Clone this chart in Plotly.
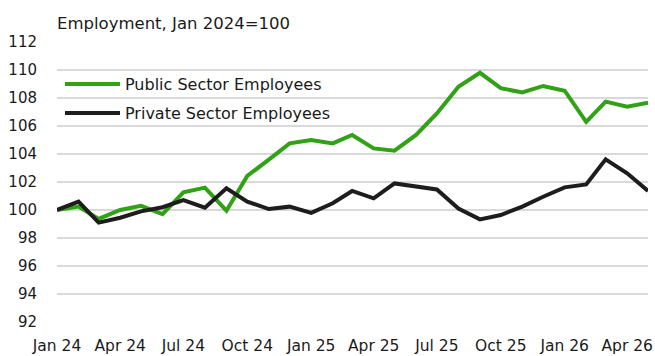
import plotly.graph_objects as go

# Monthly index values, Jan 2024 = 100
months = [
    "2024-01-01", "2024-02-01", "2024-03-01", "2024-04-01", "2024-05-01", "2024-06-01",
    "2024-07-01", "2024-08-01", "2024-09-01", "2024-10-01", "2024-11-01", "2024-12-01",
    "2025-01-01", "2025-02-01", "2025-03-01", "2025-04-01", "2025-05-01", "2025-06-01",
    "2025-07-01", "2025-08-01", "2025-09-01", "2025-10-01", "2025-11-01", "2025-12-01",
    "2026-01-01", "2026-02-01", "2026-03-01", "2026-04-01", "2026-05-01",
]

public_sector = [
    100.0, 100.24, 99.36, 100.0, 100.3, 99.7, 101.26, 101.6, 99.95, 102.43, 103.6, 104.76,
    105.0, 104.76, 105.36, 104.4, 104.24, 105.36, 106.9, 108.8, 109.8, 108.7, 108.4, 108.86,
    108.52, 106.29, 107.74, 107.38, 107.67,
]

private_sector = [
    100.0, 100.6, 99.1, 99.45, 99.9, 100.2, 100.7, 100.17, 101.55, 100.6, 100.07, 100.24,
    99.8, 100.48, 101.36, 100.83, 101.9, 101.7, 101.47, 100.1, 99.33, 99.64, 100.24, 100.95,
    101.62, 101.83, 103.62, 102.62, 101.36,
]

series_names = ["Public Sector Employees", "Private Sector Employees"]
series_colors = ["#31a116", "#1d1d1d"]
y_ticks = [92, 94, 96, 98, 100, 102, 104, 106, 108, 110, 112]

FONT = "DejaVu Sans"
TEXT = "#1a1a1a"

fig = go.Figure()
for name, values, color in zip(series_names, [public_sector, private_sector], series_colors):
    fig.add_trace(go.Scatter(
        x=months, y=values, name=name, mode="lines",
        line=dict(color=color, width=4),
        showlegend=False, hoverinfo="skip",
    ))

# Legend drawn as long sample lines with labels beside them
legend_rows_y = [0.85, 0.746]
for name, color, yy in zip(series_names, series_colors, legend_rows_y):
    fig.add_shape(type="line", xref="paper", yref="paper",
                  x0=0.0135, x1=0.1066, y0=yy, y1=yy,
                  line=dict(color=color, width=4))
    fig.add_annotation(xref="paper", yref="paper", x=0.1117, y=yy,
                       xanchor="left", yanchor="middle", showarrow=False,
                       text=name, font=dict(family=FONT, size=16, color=TEXT))

fig.update_layout(
    width=655, height=356,
    margin=dict(l=57, r=7, t=42, b=34),
    paper_bgcolor="white", plot_bgcolor="white",
    font=dict(family=FONT, size=16, color=TEXT),
    title=dict(text="Employment, Jan 2024=100", x=0, xref="paper", xanchor="left",
               y=1 - 23 / 356, yref="container", yanchor="middle",
               font=dict(family=FONT, size=16.5, color=TEXT)),
)

fig.update_xaxes(
    type="date", range=[months[0], months[-1]],
    tick0=months[0], dtick="M3", tickformat="%b %y",
    showgrid=False, zeroline=False, showline=False,
    ticks="", ticklabelstandoff=12, automargin=False,
    tickfont=dict(size=15.5),
)
fig.update_yaxes(
    range=[y_ticks[0], y_ticks[-1]], tickvals=y_ticks,
    showgrid=True, gridcolor="#d9d9d9", gridwidth=1.5,
    zeroline=False, showline=False, ticks="", ticklabelstandoff=19,
    tickfont=dict(size=15), automargin=False,
)

fig.write_html("out.html")
